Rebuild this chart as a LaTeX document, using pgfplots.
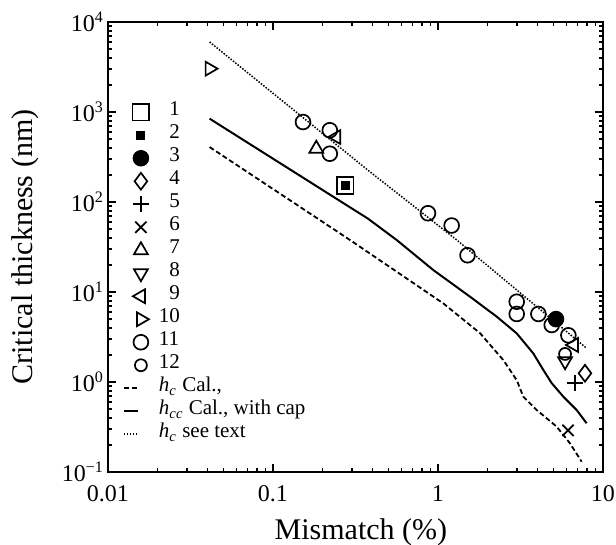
\documentclass[border=0pt]{standalone}
\usepackage{fontspec}
\setmainfont{Liberation Serif}
\usepackage{pgfplots}
\pgfplotsset{compat=1.18}
\pgfplotsset{pt/.style={only marks, black, line width=0.85pt},
  shortline/.style={legend image code/.code={\draw[##1] (0pt,0pt) -- (7pt,0pt); \path (0.6cm,0pt);}}}
\begin{document}
\begin{tikzpicture}
\useasboundingbox (-54pt,-36.5pt) rectangle (254pt,236pt);
\begin{axis}[
  scale only axis, width=247.5pt, height=225pt,
  xmode=log, ymode=log,
  xmin=0.01, xmax=10, ymin=0.1, ymax=10000,
  xtick={0.01,0.1,1,10}, xticklabels={0.01,0.1,1,10},
  ytick={0.1,1,10,100,1000,10000},
  yticklabels={10\textsuperscript{−1},10\textsuperscript{0},10\textsuperscript{1},10\textsuperscript{2},10\textsuperscript{3},10\textsuperscript{4}},
  tick align=inside, major tick length=4pt, minor tick length=2pt,
  every tick/.style={black, line width=0.8pt},
  axis line style={line width=1pt},
  ticklabel style={font=\fontsize{12}{14}\selectfont},
  yticklabel style={xshift=1.5pt},
  xticklabel style={yshift=-3.2pt},
  xlabel={Mismatch (\%)}, ylabel={Critical thickness (nm)},
  label style={font=\fontsize{15}{18}\selectfont},
  xlabel style={at={(axis description cs:0.511,0)}, anchor=center, yshift=-30pt},
  ylabel style={at={(axis description cs:-0.168,0.5)}, anchor=center},
  legend style={draw=none, fill=none, at={(axis description cs:0.03,0.825)}, anchor=north west,
    inner sep=0pt, outer sep=0pt, font=\fontsize{10.5}{12}\selectfont,
    nodes={inner sep=0pt, text height=7.5pt, text depth=4pt}, row sep=0pt},
  legend cell align=left,
]
\addplot[pt, mark=square, mark size=4.2pt] coordinates {(0.274,153)};
\addlegendentry{\hphantom{0}1}
\addplot[pt, mark=square*, mark size=1.8pt] coordinates {(0.274,153)};
\addlegendentry{\hphantom{0}2}
\addplot[pt, mark=*, mark size=3.7pt, fill=black] coordinates {(5.19,5.0)};
\addlegendentry{\hphantom{0}3}
\addplot[pt, mark=diamond, mark size=4.2pt] coordinates {(7.78,1.25)};
\addlegendentry{\hphantom{0}4}
\addplot[pt, mark=+, mark size=4pt] coordinates {(6.76,0.97)};
\addlegendentry{\hphantom{0}5}
\addplot[pt, mark=x, mark size=4pt] coordinates {(6.14,0.29)};
\addlegendentry{\hphantom{0}6}
\addplot[pt, mark=triangle, mark size=4pt] coordinates {(0.183,391)};
\addlegendentry{\hphantom{0}7}
\addplot[pt, mark=triangle, mark size=4pt, mark options={rotate=180}] coordinates {(5.89,1.7)};
\addlegendentry{\hphantom{0}8}
\addplot[pt, mark=triangle, mark size=4pt, mark options={rotate=90}] coordinates {(0.242,527) (6.67,2.58)};
\addlegendentry{\hphantom{0}9}
\addplot[pt, mark=triangle, mark size=4pt, mark options={rotate=-90}] coordinates {(0.0413,3030)};
\addlegendentry{10}
\addplot[pt, mark=o, mark size=3.7pt] coordinates {
  (0.152,774) (0.221,627) (0.221,344) (0.87,75) (1.21,54.8) (1.51,25.6)
  (3.0,7.8) (3.0,5.7) (4.06,5.7) (4.89,4.3) (6.17,3.3)};
\addlegendentry{11}
\addplot[pt, mark=o, mark size=3pt] coordinates {(5.89,2.05)};
\addlegendentry{12}
\addplot[black, line width=0.9pt, dash pattern=on 2.5pt off 1.4pt, shortline] coordinates {
  (0.0413,408) (0.293,37.8) (0.562,16.8) (1.076,7.48) (1.80,3.48) (2.49,1.75)
  (3.0,1.05) (3.29,0.687) (3.96,0.489) (5.24,0.319) (6.31,0.208) (7.43,0.130)};
\addlegendentry{\textit{h}\textsubscript{\textit{c}} Cal.,}
\addplot[black, line width=1pt, shortline] coordinates {
  (0.0413,843) (0.377,65.2) (0.562,37.8) (0.938,17.5) (1.563,8.87) (2.27,5.32)
  (3.0,3.47) (3.78,2.08) (4.35,1.36) (4.89,0.97) (5.75,0.687) (6.92,0.489) (7.96,0.348)};
\addlegendentry{\textit{h}\textsubscript{\textit{cc}} Cal., with cap}
\addplot[black, line width=0.75pt, dash pattern=on 0.75pt off 0.75pt, shortline] coordinates {
  (0.0413,6000) (0.377,225) (1.30,37.8) (7.96,2.37)};
\addlegendentry{\textit{h}\textsubscript{\textit{c}} see text}
\end{axis}
\end{tikzpicture}
\end{document}
